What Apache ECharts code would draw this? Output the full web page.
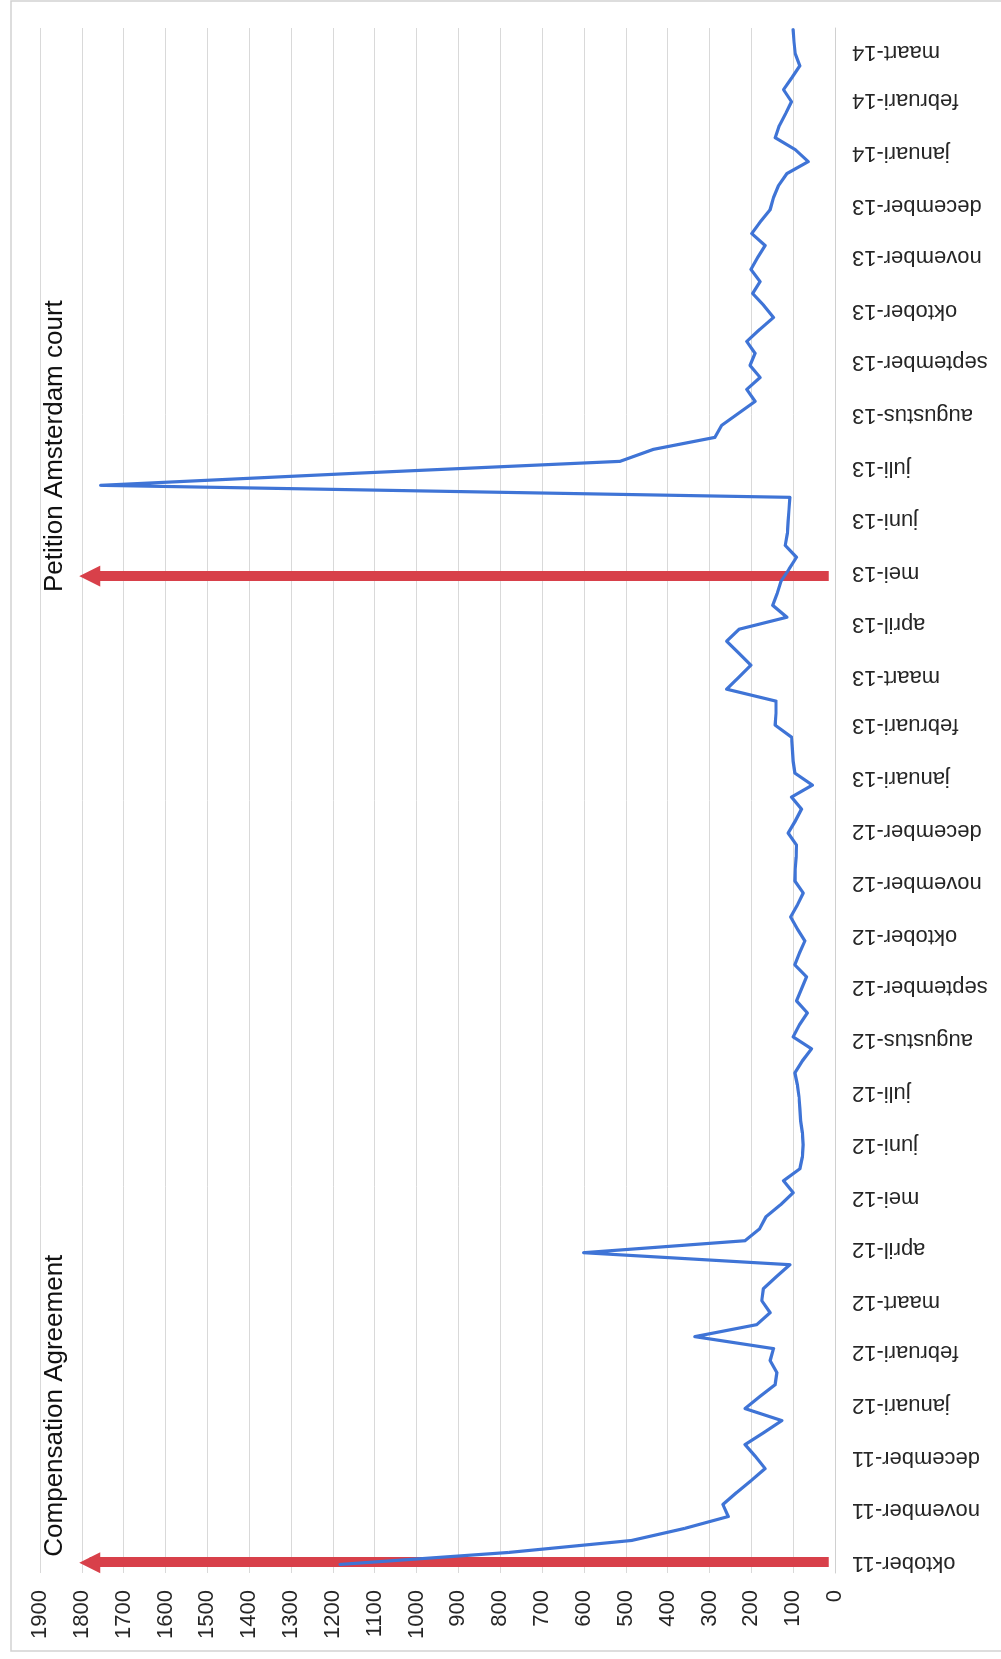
<!DOCTYPE html>
<html>
<head>
<meta charset="utf-8">
<title>Wekelijkse aantallen oktober 2011 – maart 2014</title>
<script src="https://cdn.jsdelivr.net/npm/echarts@6/dist/echarts.min.js"></script>
<style>
  html, body { margin: 0; padding: 0; background: #ffffff; }
  #page { position: relative; width: 1001px; height: 1659px; overflow: hidden; background: #ffffff; }
  /* The chart is laid out in landscape and turned a quarter turn counter-clockwise */
  #chart {
    position: absolute; left: 0; top: 0;
    width: 1659px; height: 1001px;
    transform-origin: 0 0;
    transform: translate(0, 1659px) rotate(-90deg);
  }
</style>
</head>
<body>
<div id="page"><div id="chart"></div></div>
<script>
// Date of the first weekly count
const firstWeek = '2011-09-30';

// Weekly counts, one value per week
const weeklyCounts = [
  1183, 780, 486, 360, 255, 268, 235, 200, 167, 190,
  215, 170, 127, 215, 180, 143, 139, 155, 147, 335,
  187, 155, 175, 171, 140, 108, 601, 215, 180, 165,
  130, 100, 123, 84, 78, 76, 78, 82, 84, 86,
  90, 96, 78, 56, 100, 85, 66, 92, 80, 68,
  96, 85, 72, 90, 106, 90, 76, 96, 95, 93,
  92, 112, 95, 80, 104, 54, 96, 100, 102, 104,
  143, 141, 141, 259, 230, 201, 230, 259, 229, 115,
  149, 138, 129, 110, 92, 119, 114, 112, 110, 108,
  1755, 1150, 514, 434, 287, 271, 231, 191, 211, 179,
  203, 191, 211, 180, 147, 170, 197, 179, 201, 185,
  167, 199, 178, 155, 147, 135, 115, 64, 95, 143,
  133, 118, 104, 123, 103, 84, 95, 98, 100
];

// Month tick labels along the time axis
const monthLabels = [
  'oktober-11', 'november-11', 'december-11',
  'januari-12', 'februari-12', 'maart-12', 'april-12', 'mei-12', 'juni-12',
  'juli-12', 'augustus-12', 'september-12', 'oktober-12', 'november-12', 'december-12',
  'januari-13', 'februari-13', 'maart-13', 'april-13', 'mei-13', 'juni-13',
  'juli-13', 'augustus-13', 'september-13', 'oktober-13', 'november-13', 'december-13',
  'januari-14', 'februari-14', 'maart-14'
];

// Annotated events
const eventNames = ['Compensation Agreement', 'Petition Amsterdam court'];
const eventDates = ['2011-10-01', '2013-04-29'];

const dutchMonths = ['januari', 'februari', 'maart', 'april', 'mei', 'juni', 'juli',
  'augustus', 'september', 'oktober', 'november', 'december'];

const DAY = 86400000;
function utcOf(iso) {
  const p = iso.split('-').map(Number);
  return Date.UTC(p[0], p[1] - 1, p[2]);
}
const origin = utcOf(firstWeek);
// day number counted from the first weekly count
function dayOf(iso) { return Math.round((utcOf(iso) - origin) / DAY); }
function monthLabelDay(label) {
  const parts = label.split('-');
  const t = Date.UTC(2000 + Number(parts[1]), dutchMonths.indexOf(parts[0]), 1);
  return Math.round((t - origin) / DAY);
}

const labelDays = monthLabels.map(monthLabelDay);
const labelByDay = {};
monthLabels.forEach((l, i) => { labelByDay[labelDays[i]] = l; });

const seriesData = weeklyCounts.map((v, i) => [7 * i, v]);

const FONT = '"Liberation Sans", Arial, sans-serif';
const TEXT = '#262626';
const ARROW_RED = '#d8404a';
const eventLabelShift = [6, -16];

const chart = echarts.init(document.getElementById('chart'), null, { renderer: 'canvas' });

chart.setOption({
  animation: false,
  backgroundColor: '#ffffff',
  grid: { left: 86, right: 28, top: 40, bottom: 166, containLabel: false },
  xAxis: {
    type: 'value',
    min: dayOf('2011-09-25'),
    max: dayOf('2014-03-15'),
    axisLine: { show: true, onZero: false, lineStyle: { color: '#d0d0d0', width: 1 } },
    axisTick: { show: false },
    splitLine: { show: false },
    axisLabel: {
      customValues: labelDays,
      formatter: (v) => labelByDay[v] || '',
      rotate: 90,
      margin: 17,
      fontSize: 22,
      fontFamily: FONT,
      color: TEXT,
      hideOverlap: false
    }
  },
  yAxis: {
    type: 'value',
    min: 0,
    max: 1900,
    interval: 100,
    axisLine: { show: false },
    axisTick: { show: false },
    splitLine: { show: true, lineStyle: { color: '#d9d9d9', width: 1 } },
    axisLabel: {
      formatter: (v) => String(v),
      margin: 17,
      fontSize: 22,
      fontFamily: FONT,
      color: TEXT
    }
  },
  graphic: [{
    type: 'rect',
    silent: true,
    z: -10,
    shape: { x: 8, y: 11, width: 1650, height: 1000 },
    style: { fill: 'none', stroke: '#d2d2d2', lineWidth: 1.5 }
  }],
  series: [{
    type: 'line',
    name: 'Aantal per week',
    data: seriesData,
    showSymbol: false,
    symbol: 'none',
    z: 3,
    lineStyle: { color: '#3f74d6', width: 3.2, join: 'round', cap: 'round' },
    emphasis: { disabled: true },
    markLine: {
      silent: true,
      z: 1,
      symbol: ['none', 'triangle'],
      symbolSize: 21,
      label: { show: false },
      emphasis: { disabled: true },
      lineStyle: { color: ARROW_RED, width: 10, type: 'solid', opacity: 1 },
      data: eventDates.map((d) => [
        { coord: [dayOf(d), 15] },
        { coord: [dayOf(d), 1781] }
      ])
    },
    markPoint: {
      silent: true,
      symbol: 'circle',
      symbolSize: 0,
      itemStyle: { color: 'transparent' },
      label: {
        show: true,
        position: 'right',
        distance: 0,
        formatter: '{b}',
        color: '#111111',
        fontSize: 26,
        fontFamily: FONT
      },
      data: eventNames.map((n, i) => ({
        name: n,
        coord: [dayOf(eventDates[i]), 1864],
        label: { offset: [eventLabelShift[i], 0] }
      }))
    }
  }]
});
</script>
</body>
</html>
